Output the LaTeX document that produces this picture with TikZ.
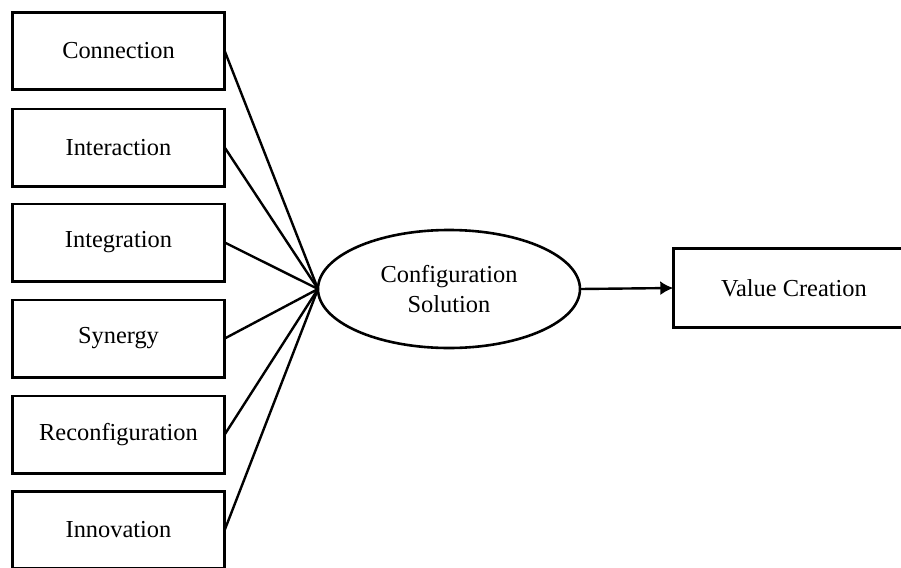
\documentclass[tikz,border=0pt]{standalone}
\usepackage{fontspec}
\setmainfont{Liberation Serif}
\usetikzlibrary{shapes.geometric,arrows.meta}

\begin{document}
\begin{tikzpicture}[x=0.5pt, y=-0.5pt, line width=1.3pt,
  every node/.style={font=\fontsize{12.2}{15}\selectfont, align=center, inner sep=0pt, outer sep=0pt},
  box/.style={draw, minimum width=107.5pt-\pgflinewidth, minimum height=40pt-\pgflinewidth},
  oval/.style={draw, ellipse, minimum width=131pt, minimum height=59pt},
  link/.style={line width=1.2pt}]
\useasboundingbox (0,0) rectangle (901,568);
\clip (0,0) rectangle (901,568);
\node[box] (conn) at (118.5,51) {Connection};
\node[box] (inter) at (118.5,147.5) {Interaction};
\node[box] (integ) at (118.5,242.5) {Integration};
\node[box] (syn) at (118.5,338.5) {Synergy};
\node[box] (reconf) at (118.5,434.5) {Reconfiguration};
\node[box] (innov) at (118.5,530) {Innovation};

\node[oval] (sol) at (449,289) {Configuration\\Solution};
\node[box, minimum width=122pt-\pgflinewidth, minimum height=41pt-\pgflinewidth] (val) at (794,288) {Value Creation};

\draw[link] (conn.east) -- (sol.west);
\draw[link] (inter.east) -- (sol.west);
\draw[link] (integ.east) -- (sol.west);
\draw[link] (syn.east) -- (sol.west);
\draw[link] (reconf.east) -- (sol.west);
\draw[link] (innov.east) -- (sol.west);
\draw[link, -{Latex[length=6.5pt, width=7pt]}] (sol.east) -- (val.west);
\end{tikzpicture}
\end{document}
